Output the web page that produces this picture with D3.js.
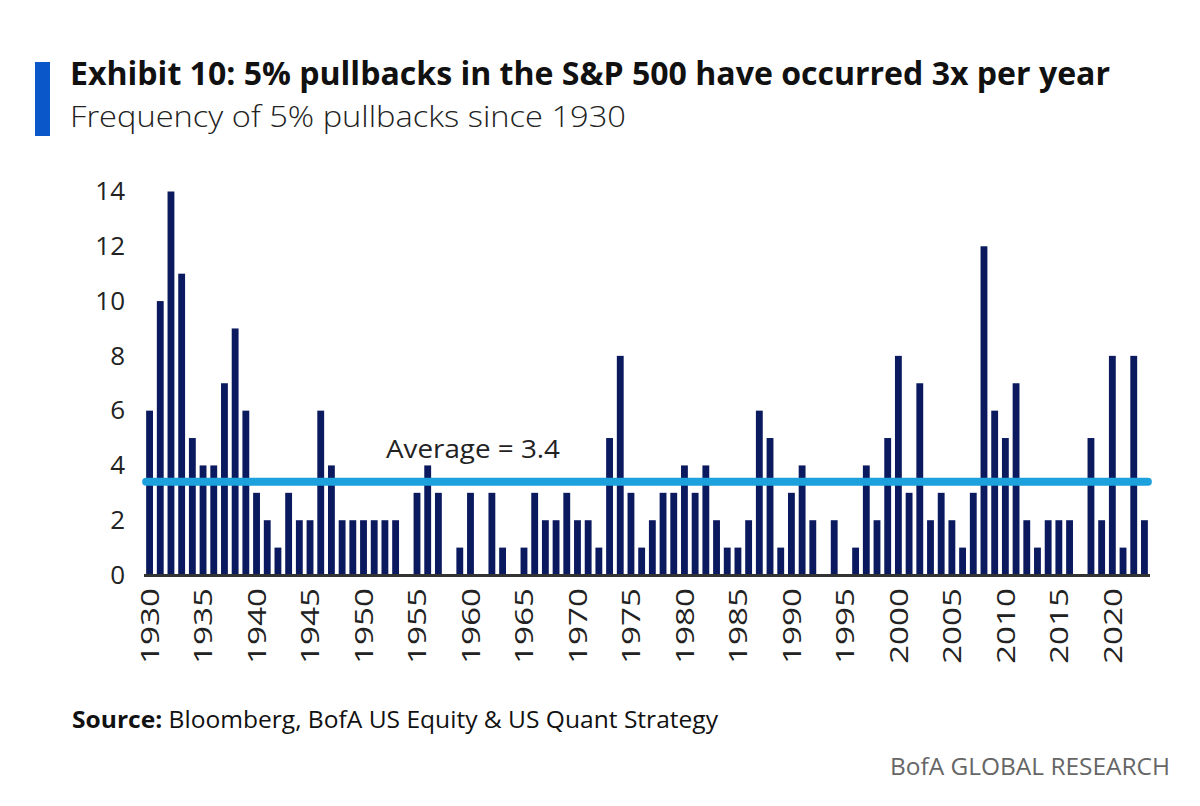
<!DOCTYPE html>
<html>
<head>
<meta charset="utf-8">
<script src="https://cdn.jsdelivr.net/npm/d3@7"></script>
<style>
  body { margin: 0; background: #fff; }
  svg { display: block; font-family: "Open Sans", "Noto Sans", sans-serif; }
</style>
</head>
<body>
<svg id="chart" width="1200" height="806"></svg>
<script>
// years shown on the chart
const years = d3.range(1930, 2024)
// number of 5% pullbacks in each year
const pullbacks = [
  6, 10, 14, 11, 5, 4, 4, 7, 9, 6,      // 1930s
  3, 2, 1, 3, 2, 2, 6, 4, 2, 2,         // 1940s
  2, 2, 2, 2, 0, 3, 4, 3, 0, 1,         // 1950s
  3, 0, 3, 1, 0, 1, 3, 2, 2, 3,         // 1960s
  2, 2, 1, 5, 8, 3, 1, 2, 3, 3,         // 1970s
  4, 3, 4, 2, 1, 1, 2, 6, 5, 1,         // 1980s
  3, 4, 2, 0, 2, 0, 1, 4, 2, 5,         // 1990s
  8, 3, 7, 2, 3, 2, 1, 3, 12, 6,        // 2000s
  5, 7, 2, 1, 2, 2, 2, 0, 5, 2,         // 2010s
  8, 1, 8, 2                            // 2020s
]
const average = 3.4
const yTicks = [0, 2, 4, 6, 8, 10, 12, 14]
const xTickYears = d3.range(1930, 2021, 5)

const svg = d3.select("#chart")

// scales
const x = d3.scaleBand()
  .domain(years)
  .range([144, 1150])
  .paddingInner(0.36)
  .paddingOuter(0.2)
const y = d3.scaleLinear()
  .domain([0, 14])
  .range([575, 191.5])

// header
svg.append("rect")
  .attr("x", 35).attr("y", 62)
  .attr("width", 15).attr("height", 74)
  .attr("fill", "#0a57c9")
svg.append("text")
  .attr("x", 70).attr("y", 85)
  .attr("font-size", 32)
  .attr("font-weight", 700)
  .attr("fill", "#111")
  .attr("textLength", 1040)
  .attr("lengthAdjust", "spacingAndGlyphs")
  .text("Exhibit 10: 5% pullbacks in the S&P 500 have occurred 3x per year")
svg.append("text")
  .attr("x", 70).attr("y", 127)
  .attr("font-size", 29)
  .attr("font-weight", 300)
  .attr("fill", "#222")
  .attr("textLength", 556)
  .attr("lengthAdjust", "spacingAndGlyphs")
  .text("Frequency of 5% pullbacks since 1930")

// y axis labels
const yAxis = svg.append("g")
  .attr("transform", "translate(125,0)")
  .call(d3.axisLeft(y).tickValues(yTicks).tickSize(0).tickPadding(0))
yAxis.select(".domain").remove()
yAxis.selectAll("text")
  .attr("font-size", 26)
  .attr("fill", "#222")
  .attr("font-family", "'Open Sans', sans-serif")

// bars
svg.append("g")
  .selectAll("rect")
  .data(years)
  .enter()
  .append("rect")
  .attr("x", d => x(d))
  .attr("y", (d, i) => y(pullbacks[i]))
  .attr("width", x.bandwidth())
  .attr("height", (d, i) => y(0) - y(pullbacks[i]))
  .attr("fill", "#0b1a5e")

// baseline + x labels
const xAxis = svg.append("g")
  .attr("transform", `translate(0,${y(0)})`)
  .call(d3.axisBottom(x).tickValues(xTickYears).tickSize(0).tickPadding(0))
xAxis.select(".domain")
  .attr("d", "M144,0.5H1150")
  .attr("stroke", "#333")
  .attr("stroke-width", 3)
xAxis.selectAll("text")
  .attr("font-size", 26)
  .attr("fill", "#222")
  .attr("font-family", "'Open Sans', sans-serif")
  .attr("transform", "rotate(-90)")
  .attr("text-anchor", "end")
  .attr("dy", "0.36em")
  .attr("x", -13)
  .attr("y", 0)
  .attr("textLength", 76)
  .attr("lengthAdjust", "spacingAndGlyphs")

// average line
svg.append("line")
  .attr("x1", x(1930)).attr("x2", x(2023) + x.bandwidth())
  .attr("y1", y(average)).attr("y2", y(average))
  .attr("stroke", "#1da1dc")
  .attr("stroke-width", 8)
  .attr("stroke-linecap", "round")
svg.append("text")
  .attr("x", 386).attr("y", y(average) - 24)
  .attr("font-size", 26)
  .attr("fill", "#222")
  .attr("textLength", 174)
  .attr("lengthAdjust", "spacingAndGlyphs")
  .text("Average = " + average)

// footer
const source = svg.append("text")
  .attr("x", 72).attr("y", 728)
  .attr("font-size", 24)
  .attr("fill", "#111")
  .attr("textLength", 646)
  .attr("lengthAdjust", "spacingAndGlyphs")
source.append("tspan").attr("font-weight", 700).text("Source:")
source.append("tspan").text(" Bloomberg, BofA US Equity & US Quant Strategy")
svg.append("text")
  .attr("x", 1170).attr("y", 775)
  .attr("text-anchor", "end")
  .attr("font-size", 24)
  .attr("fill", "#666")
  .attr("textLength", 280)
  .attr("lengthAdjust", "spacingAndGlyphs")
  .text("BofA GLOBAL RESEARCH")
</script>
</body>
</html>
